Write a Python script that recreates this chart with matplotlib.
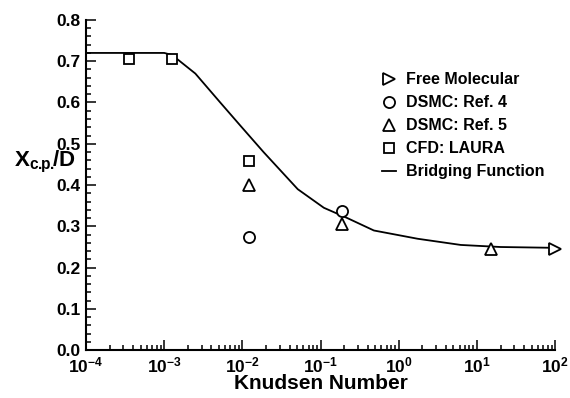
#!/usr/bin/env python3

import matplotlib
matplotlib.use("Agg")
import matplotlib.pyplot as plt
from matplotlib.ticker import MultipleLocator, LogLocator, NullFormatter

plt.rcParams['font.family'] = ['Liberation Sans', 'DejaVu Sans']
plt.rcParams['font.weight'] = 'bold'
plt.rcParams['mathtext.fontset'] = 'custom'
plt.rcParams['mathtext.rm'] = 'Liberation Sans:bold'
plt.rcParams['mathtext.bf'] = 'Liberation Sans:bold'
plt.rcParams['mathtext.it'] = 'Liberation Sans:bold'

# bridging function curve
kn_bridge = [1e-4, 1e-3, 1.26e-3, 2.5e-3, 5.2e-3, 9.3e-3, 1.86e-2, 5.1e-2,
             0.11, 0.22, 0.48, 1.74, 6.2, 20, 100]
xcp_bridge = [0.72, 0.72, 0.715, 0.67, 0.60, 0.545, 0.48, 0.39,
              0.345, 0.32, 0.29, 0.27, 0.255, 0.25, 0.248]

# free molecular limit
kn_fm = [100]
xcp_fm = [0.245]

# DSMC: Ref. 4
kn_dsmc4 = [0.012, 0.19]
xcp_dsmc4 = [0.275, 0.338]

# DSMC: Ref. 5
kn_dsmc5 = [0.012, 0.19, 15]
xcp_dsmc5 = [0.40, 0.305, 0.245]

# CFD: LAURA
kn_cfd = [3.5e-4, 1.25e-3, 0.012]
xcp_cfd = [0.705, 0.705, 0.458]


def main():
    fig = plt.figure(figsize=(5.7, 3.98), dpi=100)
    ax = fig.add_axes([0.151, 0.12, 0.823, 0.83])

    mk = dict(linestyle='none', markerfacecolor='white', markeredgecolor='black',
              markeredgewidth=1.3, markersize=8)
    ax.plot(kn_fm, xcp_fm, marker='>', label='Free Molecular', clip_on=False, **mk)
    ax.plot(kn_dsmc4, xcp_dsmc4, marker='o', label='DSMC: Ref. 4', **mk)
    ax.plot(kn_dsmc5, xcp_dsmc5, marker='^', label='DSMC: Ref. 5', **mk)
    ax.plot(kn_cfd, xcp_cfd, marker='s', label='CFD: LAURA',
            **{**mk, 'markersize': 7})
    ax.plot(kn_bridge, xcp_bridge, color='black', lw=1.3, label='Bridging Function',
            zorder=1)

    ax.set_xscale('log')
    ax.set_xlim(1e-4, 1e2)
    ax.set_ylim(0, 0.8)

    ax.spines['top'].set_visible(False)
    ax.spines['right'].set_visible(False)
    ax.spines['left'].set_linewidth(1.5)
    ax.spines['bottom'].set_linewidth(1.5)

    ax.yaxis.set_major_locator(MultipleLocator(0.1))
    ax.yaxis.set_minor_locator(MultipleLocator(0.02))
    ax.xaxis.set_major_locator(LogLocator(base=10, numticks=10))
    ax.xaxis.set_minor_locator(LogLocator(base=10, subs=range(2, 10), numticks=20))
    ax.xaxis.set_minor_formatter(NullFormatter())
    ax.tick_params(which='both', direction='in', width=1.1)
    ax.tick_params(which='major', length=7, labelsize=12.5, pad=4)
    ax.tick_params(which='minor', length=3.5)
    ax.set_yticklabels(['{:.1f}'.format(v) for v in ax.get_yticks()])
    for lab in ax.get_yticklabels() + ax.get_xticklabels():
        lab.set_fontweight('bold')

    ax.set_xlabel('Knudsen Number', fontsize=15, fontweight='bold', labelpad=-1)
    ax.set_ylabel(r'$\mathbf{X}_{\mathbf{c.\!\!p.\!\!}}\mathbf{/D}$', fontsize=16,
                  rotation=0, ha='center', va='center')
    ax.yaxis.set_label_coords(-0.088, 0.57)

    ax.legend(loc='upper left', bbox_to_anchor=(0.613, 0.865), frameon=False,
              fontsize=11.5, handlelength=0.9, handletextpad=0.6,
              labelspacing=0.5, borderpad=0)

    fig.savefig('out.png', dpi=100)


if __name__ == "__main__":
    main()
